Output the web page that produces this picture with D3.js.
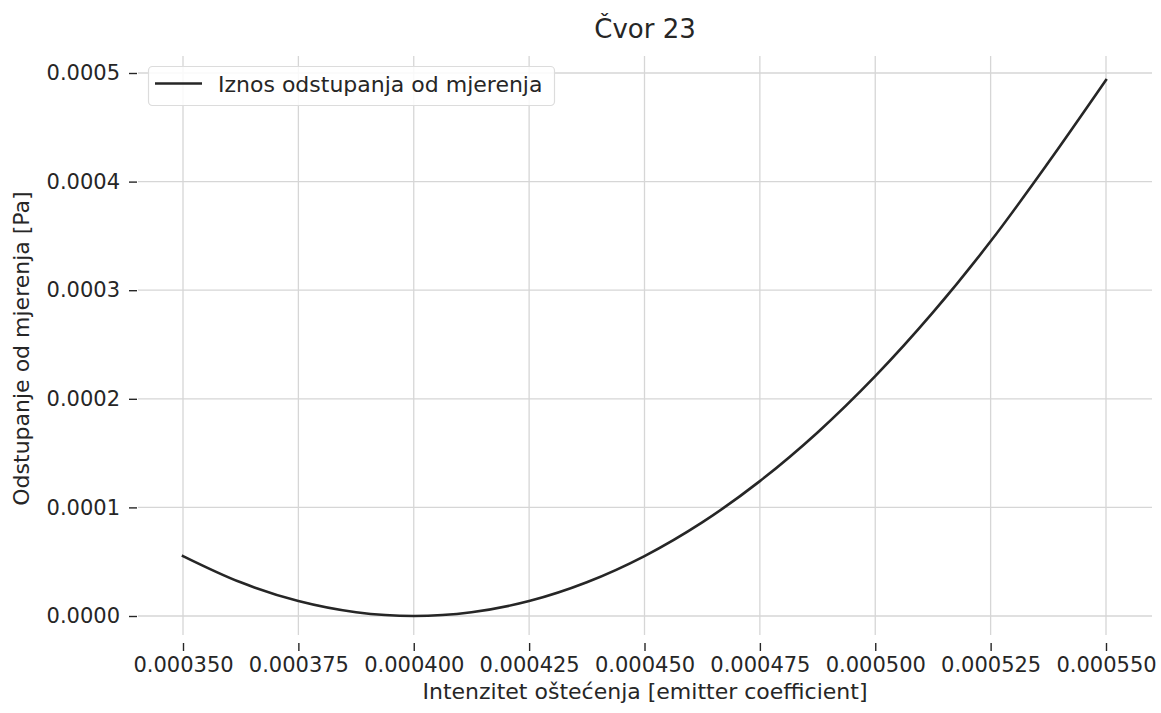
<!DOCTYPE html>
<html>
<head>
<meta charset="utf-8">
<script src="https://cdn.jsdelivr.net/npm/d3@7"></script>
<style>
	body { margin: 0; background: white; }
	text { font-family: "DejaVu Sans", sans-serif; fill: #262626; }
</style>
</head>
<body>
<svg id="chart" width="1161" height="713"></svg>
<script>

let intensity = [0.00035, 0.0003625, 0.000375, 0.0003875, 0.0004, 0.0004125, 0.000425, 0.0004375, 0.00045,
	0.0004625, 0.000475, 0.0004875, 0.0005, 0.0005125, 0.000525, 0.0005375, 0.00055]

let deviation = [0.0000552, 0.0000310, 0.0000138, 0.0000035, 0.0000000, 0.0000035, 0.0000138, 0.0000311, 0.0000552,
	0.0000862, 0.0001242, 0.0001690, 0.0002208, 0.0002795, 0.0003450, 0.0004175, 0.0004935]

let xTicks = [0.00035, 0.000375, 0.0004, 0.000425, 0.00045, 0.000475, 0.0005, 0.000525, 0.00055]
let yTicks = [0, 0.0001, 0.0002, 0.0003, 0.0004, 0.0005]

let title = 'Čvor 23'
let xLabel = 'Intenzitet oštećenja [emitter coefficient]'
let yLabel = 'Odstupanje od mjerenja [Pa]'
let seriesName = 'Iznos odstupanja od mjerenja'


function drawChart(){

	let left = 138, right = 1152, top = 54, bottom = 643

	let svg = d3.select('#chart')

	let x = d3.scaleLinear()
		.domain([0.00035, 0.00055])
		.range([183, 1106])

	let y = d3.scaleLinear()
		.domain([0, 0.0005])
		.range([616, 73])

	// grid
	svg.append('g')
		.selectAll('line')
		.data(xTicks)
		.enter()
		.append('line')
		.attr('x1', d => x(d))
		.attr('x2', d => x(d))
		.attr('y1', 56)
		.attr('y2', 635)
		.attr('stroke', '#d6d6d6')
		.attr('stroke-width', 1.3)

	svg.append('g')
		.selectAll('line')
		.data(yTicks)
		.enter()
		.append('line')
		.attr('x1', left)
		.attr('x2', right)
		.attr('y1', d => y(d))
		.attr('y2', d => y(d))
		.attr('stroke', '#d6d6d6')
		.attr('stroke-width', 1.3)

	// axes without spines
	let xAxis = svg.append('g')
		.attr('transform', 'translate(0,' + bottom + ')')
		.call(d3.axisBottom(x).tickValues(xTicks).tickFormat(d3.format('.6f')).tickSize(8).tickPadding(6))

	let yAxis = svg.append('g')
		.attr('transform', 'translate(' + (left - 1) + ',0)')
		.call(d3.axisLeft(y).tickValues(yTicks).tickFormat(d3.format('.4f')).tickSize(8).tickPadding(9))

	;[xAxis, yAxis].forEach(function(ax){
		ax.select('.domain').remove()
		ax.selectAll('line').attr('stroke', '#262626').attr('stroke-width', 1.4)
		ax.selectAll('text').attr('font-size', 21).attr('fill', '#262626').style('font-family', '"DejaVu Sans", sans-serif')
	})

	// curve
	let line = d3.line()
		.x((d, i) => x(intensity[i]))
		.y(d => y(d))
		.curve(d3.curveCatmullRom)

	svg.append('path')
		.datum(deviation)
		.attr('d', line)
		.attr('fill', 'none')
		.attr('stroke', '#262626')
		.attr('stroke-width', 2.6)
		.attr('stroke-linecap', 'square')

	// texts
	svg.append('text')
		.text(title)
		.attr('x', (left + right) / 2)
		.attr('y', 38)
		.attr('text-anchor', 'middle')
		.attr('font-size', 26)

	svg.append('text')
		.text(xLabel)
		.attr('x', (left + right) / 2)
		.attr('y', 699)
		.attr('text-anchor', 'middle')
		.attr('font-size', 22)

	svg.append('text')
		.text(yLabel)
		.attr('transform', 'translate(29,' + (top + bottom) / 2 + ') rotate(-90)')
		.attr('text-anchor', 'middle')
		.attr('font-size', 22)

	// legend
	let legend = svg.append('g')

	legend.append('rect')
		.attr('x', 148.5)
		.attr('y', 66.5)
		.attr('width', 406)
		.attr('height', 39)
		.attr('rx', 4)
		.attr('fill', 'white')
		.attr('fill-opacity', 0.85)
		.attr('stroke', '#dcdcdc')
		.attr('stroke-width', 1.2)

	legend.append('line')
		.attr('x1', 155)
		.attr('x2', 202)
		.attr('y1', 83.5)
		.attr('y2', 83.5)
		.attr('stroke', '#262626')
		.attr('stroke-width', 2.6)

	legend.append('text')
		.text(seriesName)
		.attr('x', 218)
		.attr('y', 92)
		.attr('font-size', 22)
}

drawChart()

</script>
</body>
</html>
